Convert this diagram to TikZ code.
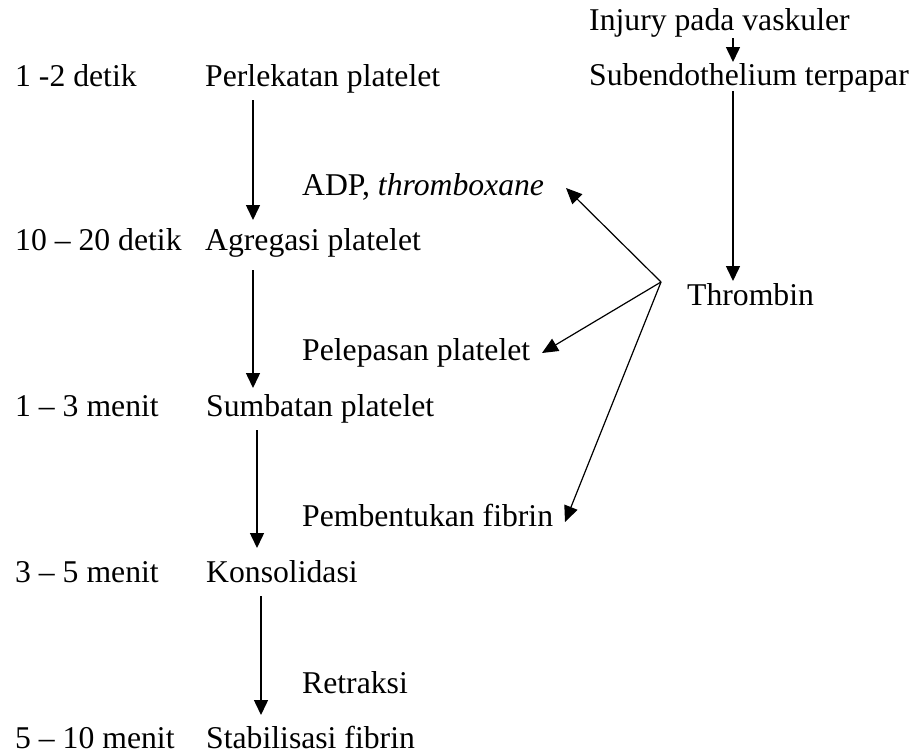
\documentclass[tikz,border=0pt]{standalone}
\usepackage{fontspec}
\setmainfont{Liberation Serif}
\usetikzlibrary{arrows.meta}
\begin{document}
\begin{tikzpicture}[x=1pt,y=-1pt,
  lbl/.style={anchor=base west,inner sep=0pt,font=\fontsize{31.7}{36}\selectfont},
  arr/.style={line width=1.5pt,-{Triangle[length=15pt,width=14pt]}},
  thin arr/.style={line width=1.2pt,-{Triangle[length=16pt,width=14pt]}}]
\useasboundingbox (0,0) rectangle (921,753);
% left column
\node[lbl] (t1) at (15,86) {1 -2 detik};
\node[lbl] (s1) at (205,86) {Perlekatan platelet};
\node[lbl] (t2) at (15,250) {10 – 20 detik};
\node[lbl] (s2) at (205,250) {Agregasi platelet};
\node[lbl] (t3) at (15,416) {1 – 3 menit};
\node[lbl] (s3) at (206,416) {Sumbatan platelet};
\node[lbl] (t4) at (15,582) {3 – 5 menit};
\node[lbl] (s4) at (206,582) {Konsolidasi};
\node[lbl] (t5) at (15,748) {5 – 10 menit};
\node[lbl] (s5) at (206,748) {Stabilisasi fibrin};
% middle labels
\node[lbl] (adp) at (302,195) {ADP, \textit{thromboxane}};
\node[lbl] (pel) at (302,360) {Pelepasan platelet};
\node[lbl] (pem) at (302,526) {Pembentukan fibrin};
\node[lbl] (ret) at (302,693) {Retraksi};
% right column
\node[lbl] (inj) at (589,30) {Injury pada vaskuler};
\node[lbl] (sub) at (589,85) {Subendothelium terpapar};
\node[lbl] (thr) at (687,305) {Thrombin};
% arrow end points
\coordinate (a1s) at (253,100); \coordinate (a1e) at (253,220);
\coordinate (a2s) at (253,270); \coordinate (a2e) at (253,388);
\coordinate (a3s) at (257,430); \coordinate (a3e) at (257,548);
\coordinate (a4s) at (261,596); \coordinate (a4e) at (261,715);
\coordinate (b1s) at (733,38);  \coordinate (b1e) at (733,62);
\coordinate (b2s) at (733,91);  \coordinate (b2e) at (733,281);
\coordinate (J) at (661,282);
\coordinate (c1) at (566,188);
\coordinate (c2) at (542,353);
\coordinate (c3) at (565,522);
% arrows
\draw[arr] (a1s) -- (a1e);
\draw[arr] (a2s) -- (a2e);
\draw[arr] (a3s) -- (a3e);
\draw[arr] (a4s) -- (a4e);
\draw[arr] (b1s) -- (b1e);
\draw[arr] (b2s) -- (b2e);
\draw[thin arr] (J) -- (c1);
\draw[thin arr] (J) -- (c2);
\draw[thin arr] (J) -- (c3);
\end{tikzpicture}
\end{document}
